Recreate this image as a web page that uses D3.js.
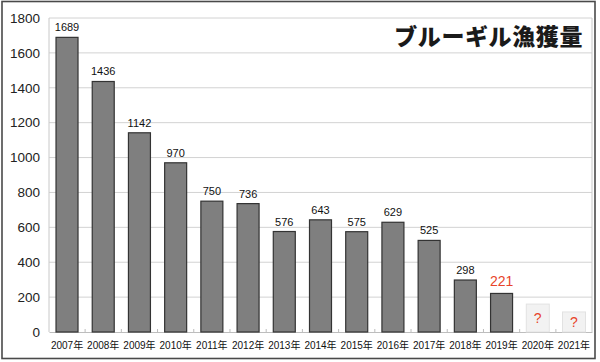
<!DOCTYPE html>
<html><head><meta charset="utf-8">
<script src="https://cdn.jsdelivr.net/npm/d3@7"></script>
<style>html,body{margin:0;padding:0;background:#fff}svg{display:block}</style>
</head><body>
<svg id="c" width="600" height="362"></svg>
<script>
const years = ["2007年","2008年","2009年","2010年","2011年","2012年","2013年","2014年","2015年","2016年","2017年","2018年","2019年","2020年","2021年"];
const catch_t = [1689,1436,1142,970,750,736,576,643,575,629,525,298,221,null,null];
const unknownHeights = [null,null,null,null,null,null,null,null,null,null,null,null,null,160,115];
const yTicks = [0,200,400,600,800,1000,1200,1400,1600,1800];
const title = "ブルーギル漁獲量";

const svg = d3.select("#c");
const m = {l:49, r:592, t:18, b:332};
const x = d3.scaleBand().domain(years).range([m.l, m.r]).paddingInner(0.365).paddingOuter(0.18);
const y = d3.scaleLinear().domain([0,1800]).range([m.b, m.t]);
const font = "'Liberation Sans', Arial, sans-serif";
const xfont = "'Liberation Sans', 'Noto Sans CJK JP', sans-serif";

// outer frame
svg.append("rect").attr("x",2).attr("y",1.5).attr("width",593).attr("height",357)
  .attr("fill","none").attr("stroke","#4a4a4a").attr("stroke-width",1.6);

// grid
svg.append("g").selectAll("line").data(yTicks.filter(d=>d>0)).join("line")
  .attr("x1",m.l).attr("x2",m.r).attr("y1",d=>y(d)).attr("y2",d=>y(d))
  .attr("stroke","#d2d2d2").attr("stroke-width",1);
svg.append("line").attr("x1",m.l).attr("x2",m.l).attr("y1",m.t).attr("y2",m.b).attr("stroke","#c8c8c8");
svg.append("line").attr("x1",m.r).attr("x2",m.r).attr("y1",m.t).attr("y2",m.b).attr("stroke","#c8c8c8");

// y axis labels
const ya = d3.axisLeft(y).tickValues(yTicks).tickFormat(d3.format("d")).tickSize(0).tickPadding(9);
const yg = svg.append("g").attr("transform",`translate(${m.l},0)`).call(ya);
yg.select(".domain").remove();
yg.selectAll("text").attr("font-family",font).attr("font-size",13.5).attr("fill","#222");

// x axis
const xa = d3.axisBottom(x).tickSize(0).tickPadding(10);
const xg = svg.append("g").attr("transform",`translate(0,${m.b})`).call(xa);
xg.select(".domain").attr("stroke","#bdbdbd");
xg.selectAll("text").attr("font-family",xfont).attr("font-size",10).attr("fill","#111");
const step = x.step();
svg.append("g").selectAll("line").data(years.slice(1)).join("line")
  .attr("x1",d=>x(d)-(step-x.bandwidth())/2).attr("x2",d=>x(d)-(step-x.bandwidth())/2)
  .attr("y1",m.b-3).attr("y2",m.b).attr("stroke","#bdbdbd");

// unknown placeholder bars
const ud = years.map((yr,i)=>({yr,v:unknownHeights[i]})).filter(d=>d.v!=null);
svg.append("g").selectAll("rect").data(ud).join("rect")
  .attr("x",d=>x(d.yr)).attr("width",x.bandwidth())
  .attr("y",d=>y(d.v)).attr("height",d=>y(0)-y(d.v))
  .attr("fill","#f2f2f2").attr("stroke","#e2e2e2");
svg.append("g").selectAll("text").data(ud).join("text")
  .attr("x",d=>x(d.yr)+x.bandwidth()/2).attr("y",d=>y(d.v)+(y(0)-y(d.v))/2+5)
  .attr("text-anchor","middle").attr("font-family",font).attr("font-size",14)
  .attr("fill","#e8442a").text("?");

// bars
const bd = years.map((yr,i)=>({yr,v:catch_t[i]})).filter(d=>d.v!=null);
svg.append("g").selectAll("rect").data(bd).join("rect")
  .attr("x",d=>x(d.yr)+0.5).attr("width",x.bandwidth()-1)
  .attr("y",d=>y(d.v)).attr("height",d=>y(0)-y(d.v))
  .attr("fill","#7f7f7f").attr("stroke","#333").attr("stroke-width",1.2);

// value labels
svg.append("g").selectAll("text").data(bd).join("text")
  .attr("x",d=>x(d.yr)+x.bandwidth()/2)
  .attr("y",d=>y(d.v)-(d.yr==="2019年"?7:6))
  .attr("text-anchor","middle").attr("font-family",font)
  .attr("font-size",d=>d.yr==="2019年"?14:11)
  .attr("fill",d=>d.yr==="2019年"?"#e8442a":"#111")
  .text(d=>d.v);

// title
svg.append("text").attr("x",583).attr("y",45).attr("text-anchor","end")
  .attr("font-family","'Noto Sans CJK JP', sans-serif").attr("font-weight","900")
  .attr("font-size",23).attr("letter-spacing","0.6").attr("fill","#1a1a1a").text(title);
</script>
</body></html>
